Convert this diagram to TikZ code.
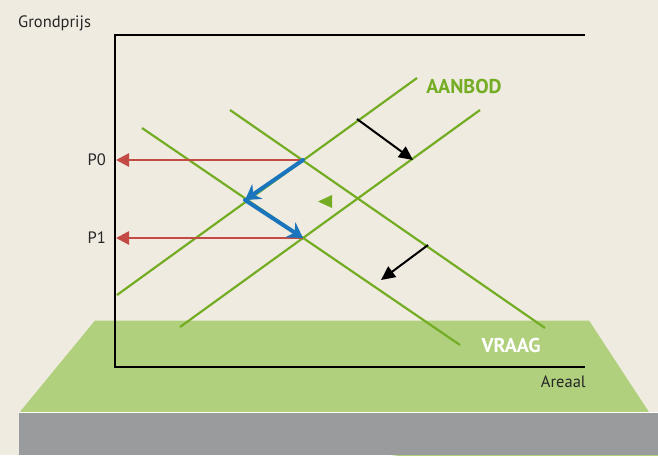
\documentclass[tikz,border=0pt]{standalone}
\usepackage{fontspec}
\setmainfont{PT Sans}
\usetikzlibrary{arrows.meta}
\definecolor{bgc}{HTML}{F0EBE0}
\definecolor{fieldc}{HTML}{B0D07E}
\definecolor{grayc}{HTML}{9A9B9D}
\definecolor{linec}{HTML}{74AD23}
\definecolor{redc}{HTML}{C44B45}
\definecolor{bluec}{HTML}{1B75BC}
\tikzset{
  curve/.style={draw=linec, line width=2.2pt},
  pricearrow/.style={draw=redc, line width=2.6pt, -{Triangle[length=13pt,width=13pt]}},
  movearrow/.style={draw=bluec, line width=4pt, line cap=round, -{Stealth[length=15pt,width=18pt,inset=5pt]}},
  shiftarrow/.style={draw=black, line width=2pt, -{Triangle[length=14pt,width=13pt]}},
  axis/.style={draw=black, line width=2.8pt},
  lbl/.style={font=\fontsize{16.5}{19}\selectfont, text=black!85, inner sep=0pt},
  biglbl/.style={font=\fontsize{20}{23}\selectfont\bfseries, inner sep=0pt}
}
\begin{document}
\begin{tikzpicture}[x=1pt,y=-1pt]
\useasboundingbox (0,0) rectangle (658,455);
\fill[bgc] (0,0) rectangle (658,455);
% field
\fill[fieldc] (95,320.5) -- (589,320.5) -- (700,490) -- (19,413) -- cycle;
\fill[grayc] (19,413) rectangle (658,455);
\draw[white, line width=1pt] (19,412.8) -- (658,412.8);
% axes
\coordinate (ytop) at (115,35);
\coordinate (origin) at (115,367);
\coordinate (xend) at (585,367);
\coordinate (tr) at (585,35);
\draw[axis, line join=miter] (tr) -- (ytop) -- (origin) -- (xend);
% curves
\coordinate (s1a) at (117,295); \coordinate (s1b) at (417,78);
\coordinate (s2a) at (180,327); \coordinate (s2b) at (480,110);
\coordinate (d1a) at (230,110); \coordinate (d1b) at (545,328);
\coordinate (d2a) at (142,128); \coordinate (d2b) at (460,345);
\draw[curve] (s1a) -- (s1b);
\draw[curve] (s2a) -- (s2b);
\draw[curve] (d1a) -- (d1b);
\draw[curve] (d2a) -- (d2b);
% equilibrium points
\coordinate (e0) at (303,160);
\coordinate (em) at (245,200);
\coordinate (e1) at (303,238);
\coordinate (p0ax) at (116,160);
\coordinate (p1ax) at (116,238);
\draw[pricearrow] (e0) -- (p0ax);
\draw[pricearrow] (e1) -- (p1ax);
\draw[movearrow] (e0) -- (em);
\draw[movearrow] (em) -- (e1);
% small triangle
\fill[linec] (318,201.5) -- (332,195) -- (332,208) -- cycle;
% shift arrows
\coordinate (a1s) at (357,119); \coordinate (a1e) at (413,160);
\coordinate (a2s) at (428,245); \coordinate (a2e) at (381,280);
\draw[shiftarrow] (a1s) -- (a1e);
\draw[shiftarrow] (a2s) -- (a2e);
% labels
\node[lbl, anchor=west] (gp) at (18,23) {Grondprijs};
\node[lbl, anchor=east] (ar) at (586,382) {Areaal};
\node[lbl, anchor=east] (p0) at (106,160) {P0};
\node[lbl, anchor=east] (p1) at (106,238) {P1};
\node[biglbl, text=linec] (aanbod) at (464,86) {AANBOD};
\node[biglbl, text=white] (vraag) at (511,345) {VRAAG};
\end{tikzpicture}
\end{document}
